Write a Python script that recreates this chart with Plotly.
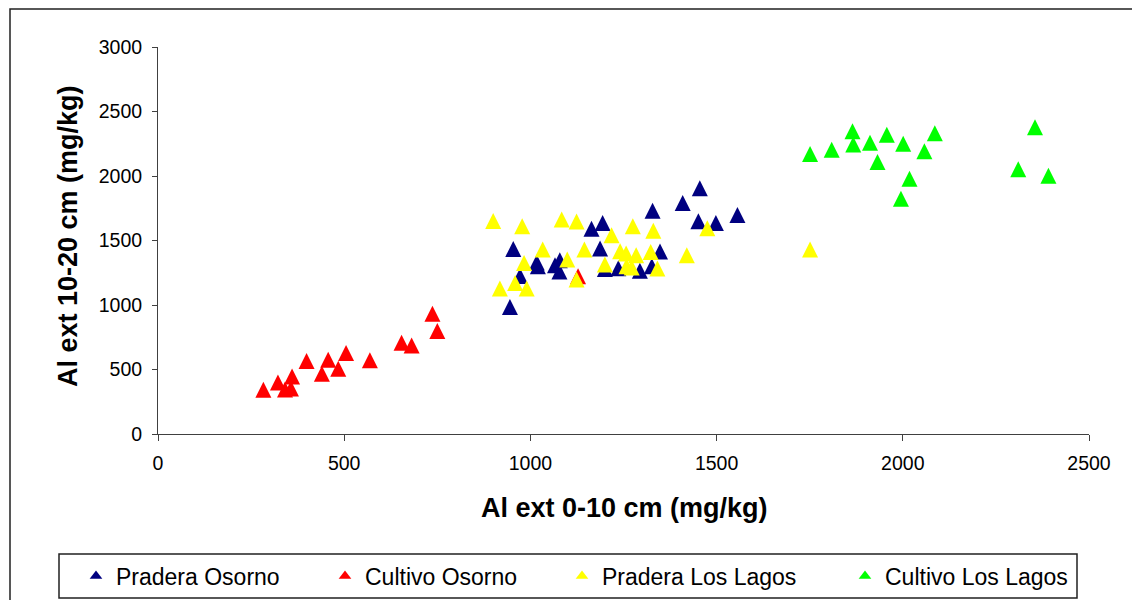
import plotly.graph_objects as go

# Aluminio extractable: capa 0-10 cm (x) vs capa 10-20 cm (y), mg/kg
pradera_osorno_x = [945, 954, 972, 1017, 1020, 1066, 1078, 1079, 1164, 1194, 1187,
                    1200, 1236, 1294, 1326, 1328, 1348, 1409, 1455, 1451, 1498, 1556]
pradera_osorno_y = [985, 1435, 1225, 1330, 1300, 1308, 1260, 1347, 1592, 1635, 1438,
                    1280, 1285, 1265, 1300, 1730, 1415, 1790, 1905, 1650, 1635, 1697]

cultivo_osorno_x = [283, 322, 341, 357, 360, 399, 440, 457, 484, 505, 569, 654, 681,
                    737, 750, 1128]
cultivo_osorno_y = [343, 400, 345, 353, 446, 565, 467, 576, 506, 627, 571, 708, 687,
                    933, 798, 1223]

pradera_lagos_x = [900, 978, 1084, 1124, 1033, 1145, 983, 1099, 959, 918, 990, 1124,
                   1200, 1218, 1275, 1330, 1241, 1257, 1284, 1323, 1258, 1272, 1341,
                   1420, 1475, 1751]
pradera_lagos_y = [1652, 1611, 1663, 1647, 1430, 1430, 1326, 1352, 1171, 1127, 1127, 1197,
                   1313, 1541, 1611, 1575, 1417, 1399, 1386, 1411, 1300, 1290, 1282,
                   1386, 1595, 1430]

cultivo_lagos_x = [1751, 1809, 1865, 1867, 1912, 1957, 1932, 2001, 2058, 2086, 2018,
                   1995, 2355, 2310, 2391]
cultivo_lagos_y = [2170, 2203, 2346, 2245, 2258, 2320, 2108, 2250, 2191, 2331, 1979,
                   1823, 2377, 2053, 2002]

series_names = ["Pradera Osorno", "Cultivo Osorno", "Pradera Los Lagos", "Cultivo Los Lagos"]
series_colors = ["#000080", "#FF0000", "#FFFF00", "#00FF00"]
series_x = [pradera_osorno_x, cultivo_osorno_x, pradera_lagos_x, cultivo_lagos_x]
series_y = [pradera_osorno_y, cultivo_osorno_y, pradera_lagos_y, cultivo_lagos_y]

x_ticks = [0, 500, 1000, 1500, 2000, 2500]
y_ticks = [0, 500, 1000, 1500, 2000, 2500, 3000]

FONT = "Arial, Liberation Sans, sans-serif"
MARKER = 16

# plot area in pixels (used to place things drawn outside the axes)
L, T, W, H = 158, 47, 931, 387


def px_x(p):
    return (p - L) / W


def px_y(p):
    return (T + H - p) / H


fig = go.Figure()
legend_keys = ["legend", "legend2", "legend3", "legend4"]

# scatter points: an up-pointing triangle centred on each value
for name, xs, ys, color in zip(series_names, series_x, series_y, series_colors):
    fig.add_trace(go.Scatter(
        x=xs, y=ys, mode="markers", name=name, showlegend=False,
        marker=dict(symbol="arrow-down", angle=180, standoff=MARKER / 2,
                    size=MARKER, color=color, line=dict(width=0)),
    ))

# legend entries (one small legend per series, laid out in a single row)
for name, color, lg in zip(series_names, series_colors, legend_keys):
    fig.add_trace(go.Scatter(
        x=[None], y=[None], mode="markers", name=name, legend=lg, showlegend=True,
        marker=dict(symbol="triangle-up", size=11, color=color, line=dict(width=0)),
    ))

axis_common = dict(
    showline=True, linecolor="#404040", linewidth=1,
    ticks="outside", tickcolor="#404040", tickwidth=1,
    showgrid=False, zeroline=False,
    tickfont=dict(family=FONT, size=19.5, color="black"),
)

legend_marker_px = [98, 347, 584, 867]
legend_y = px_y(576)
layout_legends = {}
for key, mx in zip(legend_keys, legend_marker_px):
    layout_legends[key] = dict(
        orientation="h", x=px_x(mx - 22), xanchor="left", y=legend_y, yanchor="middle",
        bgcolor="rgba(0,0,0,0)", borderwidth=0,
        font=dict(family=FONT, size=23, color="black"),
    )

fig.update_layout(
    width=1132, height=600,
    margin=dict(l=L, r=1132 - L - W, t=T, b=600 - T - H, autoexpand=False),
    paper_bgcolor="white", plot_bgcolor="white",
    xaxis=dict(range=[0, 2500], tickvals=x_ticks, ticklen=6, ticklabelstandoff=6, **axis_common),
    yaxis=dict(range=[0, 3000], tickvals=y_ticks, ticklen=5, ticklabelstandoff=6, **axis_common),
    showlegend=True,
    annotations=[
        dict(text="<b>Al ext 0-10 cm (mg/kg)</b>", xref="paper", yref="paper",
             x=px_x(624.5), y=px_y(508), xanchor="center", yanchor="middle",
             showarrow=False, font=dict(family=FONT, size=27, color="black")),
        dict(text="<b>Al ext 10-20 cm (mg/kg)</b>", xref="paper", yref="paper",
             x=px_x(68), y=px_y(236), xanchor="center", yanchor="middle", textangle=-90,
             showarrow=False, font=dict(family=FONT, size=27, color="black")),
    ],
    shapes=[
        # chart area frame
        dict(type="rect", xref="paper", yref="paper",
             x0=px_x(10), y0=px_y(9), x1=px_x(1145), y1=px_y(615),
             line=dict(color="#202020", width=1.5), fillcolor="rgba(0,0,0,0)"),
        # legend frame
        dict(type="rect", xref="paper", yref="paper",
             x0=px_x(59), y0=px_y(554), x1=px_x(1077), y1=px_y(598),
             line=dict(color="#202020", width=1.5), fillcolor="rgba(0,0,0,0)"),
    ],
    **layout_legends,
)

fig.write_html("out.html")
